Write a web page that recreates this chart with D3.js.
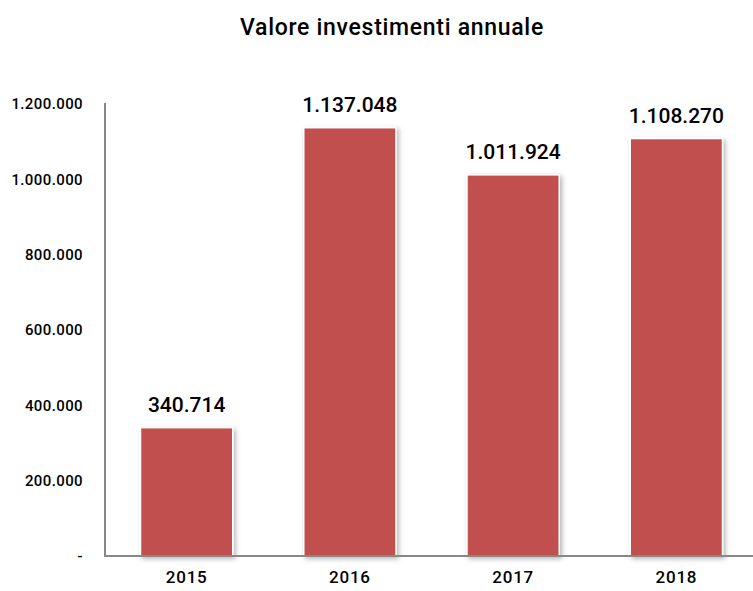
<!DOCTYPE html>
<html>
<head>
<meta charset="utf-8">
<script src="https://cdn.jsdelivr.net/npm/d3@7"></script>
<style>
  html, body { margin: 0; padding: 0; background: #fff; }
  svg { display: block; }
  text { font-family: Roboto, "Noto Sans", sans-serif; fill: #000; }
</style>
</head>
<body>
<svg id="chart" width="753" height="591"></svg>
<script>
// Annual investment values
const years = ["2015", "2016", "2017", "2018"];
const values = [340714, 1137048, 1011924, 1108270];
const yTicks = [0, 200000, 400000, 600000, 800000, 1000000, 1200000];
const chartTitle = "Valore investimenti annuale";

const svg = d3.select("#chart");
const W = 753, H = 591;
const mLeft = 105, mRight = 758, mTop = 104, mBottom = 556;

// Italian number format: dot as thousands separator
const it = d3.formatLocale({ decimal: ",", thousands: ".", grouping: [3], currency: ["€", ""] });
const fmt = it.format(",d");

const x = d3.scaleBand().domain(years).range([mLeft, mRight]).paddingInner(0.435).paddingOuter(0.2175);
const y = d3.scaleLinear().domain([0, 1200000]).range([mBottom, mTop]);

// soft shadow under bars
const defs = svg.append("defs");
const f = defs.append("filter").attr("id", "shadow")
  .attr("x", "-20%").attr("y", "-20%").attr("width", "140%").attr("height", "140%");
f.append("feDropShadow").attr("dx", 2).attr("dy", 2).attr("stdDeviation", 2.5)
  .attr("flood-color", "#000").attr("flood-opacity", 0.3);

// title
svg.append("text")
  .attr("x", 392).attr("y", 35)
  .attr("text-anchor", "middle")
  .style("font-size", "23px").style("font-weight", 500)
  .style("letter-spacing", "0.7px")
  .text(chartTitle);

// bars
svg.append("g").selectAll("rect").data(values).join("rect")
  .attr("x", (d, i) => x(years[i]))
  .attr("y", d => y(d))
  .attr("width", x.bandwidth())
  .attr("height", d => y(0) - y(d))
  .attr("fill", "#C0504D")
  .attr("stroke", "#fff")
  .attr("stroke-width", 1.5)
  .attr("filter", "url(#shadow)");

// value labels
svg.append("g").selectAll("text").data(values).join("text")
  .attr("x", (d, i) => x(years[i]) + x.bandwidth() / 2)
  .attr("y", d => y(d) - 16)
  .attr("text-anchor", "middle")
  .style("font-size", "21px").style("font-weight", 500)
  .text(d => fmt(d));

// y axis
const yAxis = d3.axisLeft(y).tickValues(yTicks).tickSize(0).tickPadding(22)
  .tickFormat(d => d === 0 ? "-" : fmt(d));
const gy = svg.append("g").attr("transform", `translate(${mLeft},0)`).call(yAxis);
gy.select(".domain").remove();
gy.selectAll("text").style("font-size", "15px").style("font-weight", 500)
  .style("letter-spacing", "0.4px")
  .style("font-family", "Roboto, 'Noto Sans', sans-serif");

// x axis
const xAxis = d3.axisBottom(x).tickSize(0).tickPadding(15);
const gx = svg.append("g").attr("transform", `translate(0,${mBottom})`).call(xAxis);
gx.select(".domain").remove();
gx.selectAll("text").style("font-size", "17px").style("font-weight", 500)
  .style("letter-spacing", "0.8px")
  .style("font-family", "Roboto, 'Noto Sans', sans-serif");

// axis lines
svg.append("line").attr("x1", mLeft).attr("x2", mLeft).attr("y1", mTop - 1).attr("y2", mBottom + 1)
  .attr("stroke", "#888").attr("stroke-width", 2);
svg.append("line").attr("x1", mLeft).attr("x2", W).attr("y1", mBottom).attr("y2", mBottom)
  .attr("stroke", "#888").attr("stroke-width", 2);
</script>
</body>
</html>
